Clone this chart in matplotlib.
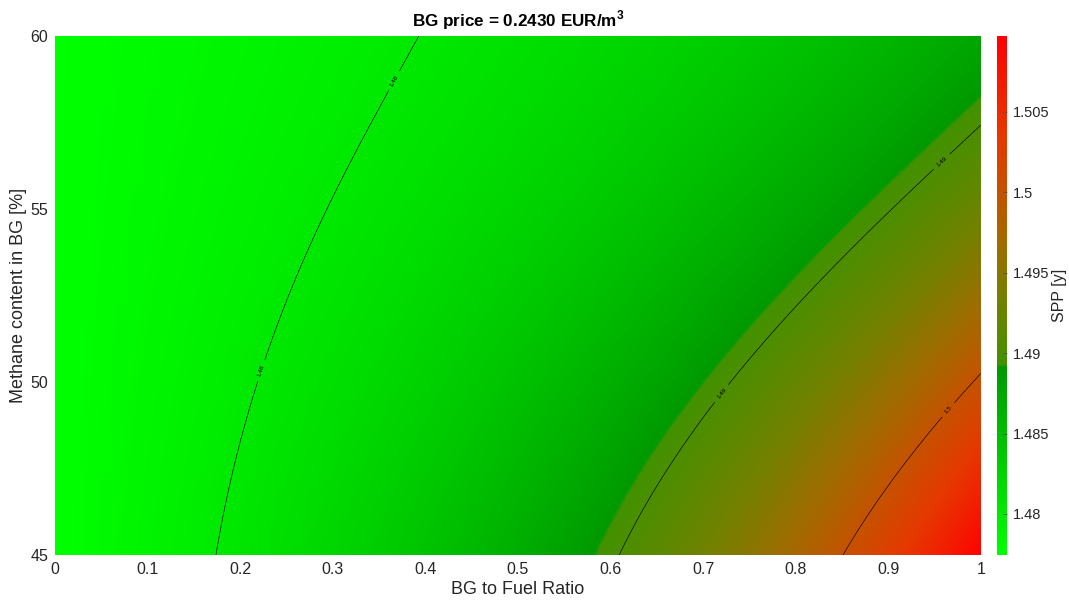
import numpy as np
import matplotlib
matplotlib.use("Agg")
import matplotlib.pyplot as plt
from matplotlib.colors import LinearSegmentedColormap, Normalize

plt.rcParams['font.family'] = ['Liberation Sans', 'DejaVu Sans']
plt.rcParams['mathtext.fontset'] = 'custom'
plt.rcParams['mathtext.rm'] = 'Liberation Sans'
plt.rcParams['mathtext.bf'] = 'Liberation Sans:bold'

# BG to fuel ratio (x) and methane content (y)
bg_ratio = [0.0, 0.1, 0.2, 0.3, 0.4, 0.5, 0.6, 0.7, 0.8, 0.9, 1.0]
methane = [45.0, 47.5, 50.0, 52.5, 55.0, 57.5, 60.0]

# SPP [y] values, one row per methane content
spp_45 = [1.47745, 1.47885, 1.48044, 1.48226, 1.48436, 1.48681, 1.48971, 1.49319, 1.49745, 1.50278, 1.50965]
spp_475 = [1.47745, 1.47870, 1.48010, 1.48170, 1.48354, 1.48567, 1.48818, 1.49116, 1.49477, 1.49923, 1.50488]
spp_50 = [1.47745, 1.47854, 1.47976, 1.48115, 1.48274, 1.48456, 1.48669, 1.48921, 1.49223, 1.49591, 1.50051]
spp_525 = [1.47745, 1.47838, 1.47942, 1.48059, 1.48192, 1.48345, 1.48521, 1.48729, 1.48975, 1.49273, 1.49639]
spp_55 = [1.47745, 1.47822, 1.47907, 1.48003, 1.48112, 1.48236, 1.48378, 1.48544, 1.48740, 1.48973, 1.49258]
spp_575 = [1.47745, 1.47811, 1.47884, 1.47966, 1.48058, 1.48162, 1.48282, 1.48421, 1.48583, 1.48775, 1.49006]
spp_60 = [1.47745, 1.47800, 1.47861, 1.47929, 1.48005, 1.48091, 1.48189, 1.48302, 1.48432, 1.48586, 1.48769]

contour_levels = [1.48, 1.49, 1.50]
contour_fmt = {1.48: '1.48', 1.49: '1.49', 1.50: '1.5'}
xticks = [0, 0.1, 0.2, 0.3, 0.4, 0.5, 0.6, 0.7, 0.8, 0.9, 1]
xtick_labels = ['0', '0.1', '0.2', '0.3', '0.4', '0.5', '0.6', '0.7', '0.8', '0.9', '1']
yticks = [45, 50, 55, 60]
cbar_ticks = [1.48, 1.485, 1.49, 1.495, 1.5, 1.505]
cbar_labels = ['1.48', '1.485', '1.49', '1.495', '1.5', '1.505']

Z = np.array([spp_45, spp_475, spp_50, spp_525, spp_55, spp_575, spp_60])
xa = np.array(bg_ratio)
ma = np.array(methane)
vmin, vmax = 1.47745, 1.5097

# smooth surface through the grid values (polynomial fit along each axis)
xf = np.linspace(xa[0], xa[-1], 927)
mf = np.linspace(ma[0], ma[-1], 520)
rows = np.array([np.polyval(np.polyfit(xa, r, 5), xf) for r in Z])
mc = (ma - ma.mean()) / 7.5
mfc = (mf - ma.mean()) / 7.5
Zf = np.array([np.polyval(np.polyfit(mc, rows[:, j], 4), mfc) for j in range(len(xf))]).T
XF, MF = np.meshgrid(xf, mf)

cmap = LinearSegmentedColormap.from_list('gr', [
    (0.0, (0.0, 1.0, 0.0)),
    (0.362, (0.0, 0.60, 0.0)),
    (0.366, (0.26, 0.57, 0.0)),
    (0.50, (0.46, 0.50, 0.0)),
    (0.60, (0.63, 0.42, 0.0)),
    (0.69, (0.76, 0.33, 0.0)),
    (0.81, (0.90, 0.22, 0.0)),
    (1.0, (1.0, 0.0, 0.0)),
], N=1024)

txt = '#262626'
fig = plt.figure(figsize=(10.69, 6.01), dpi=100)
ax = fig.add_axes([0.0515, 0.0765, 0.866, 0.8635])
ax.pcolormesh(XF, MF, Zf, cmap=cmap, vmin=vmin, vmax=vmax, shading='nearest', rasterized=True)
cs = ax.contour(XF, MF, Zf, levels=contour_levels, colors='k', linewidths=0.45)
ax.clabel(cs, fmt=contour_fmt, fontsize=4.5, inline=True,
          manual=[(0.221, 50.35), (0.36, 58.8), (0.714, 49.8), (0.955, 56.45), (0.965, 49.2)])

ax.set_xlim(0, 1)
ax.set_ylim(45, 60)
ax.set_xticks(xticks)
ax.set_xticklabels(xtick_labels)
ax.set_yticks(yticks)
for s in ax.spines.values():
    s.set_visible(False)
ax.tick_params(length=0, labelsize=11.5, colors=txt, pad=5)
ax.set_xlabel('BG to Fuel Ratio', fontsize=13, color=txt, labelpad=3)
ax.set_ylabel('Methane content in BG [%]', fontsize=13, color=txt, labelpad=2)
ax.set_title(r'BG price = 0.2430 EUR/m$^{\mathbf{3}}$', fontsize=12.3, fontweight='bold',
             color='black', pad=7)

cax = fig.add_axes([0.9327, 0.0765, 0.0094, 0.8635])
sm = matplotlib.cm.ScalarMappable(norm=Normalize(vmin, vmax), cmap=cmap)
cb = fig.colorbar(sm, cax=cax)
cb.set_ticks(cbar_ticks)
cb.set_ticklabels(cbar_labels)
cb.outline.set_visible(False)
cax.tick_params(direction='in', length=3, width=0.6, color='#555555', labelsize=10.5,
                labelcolor=txt, pad=4)
cb.set_label('SPP [y]', fontsize=11.5, color=txt, labelpad=2)

fig.savefig('out.png', dpi=100)
